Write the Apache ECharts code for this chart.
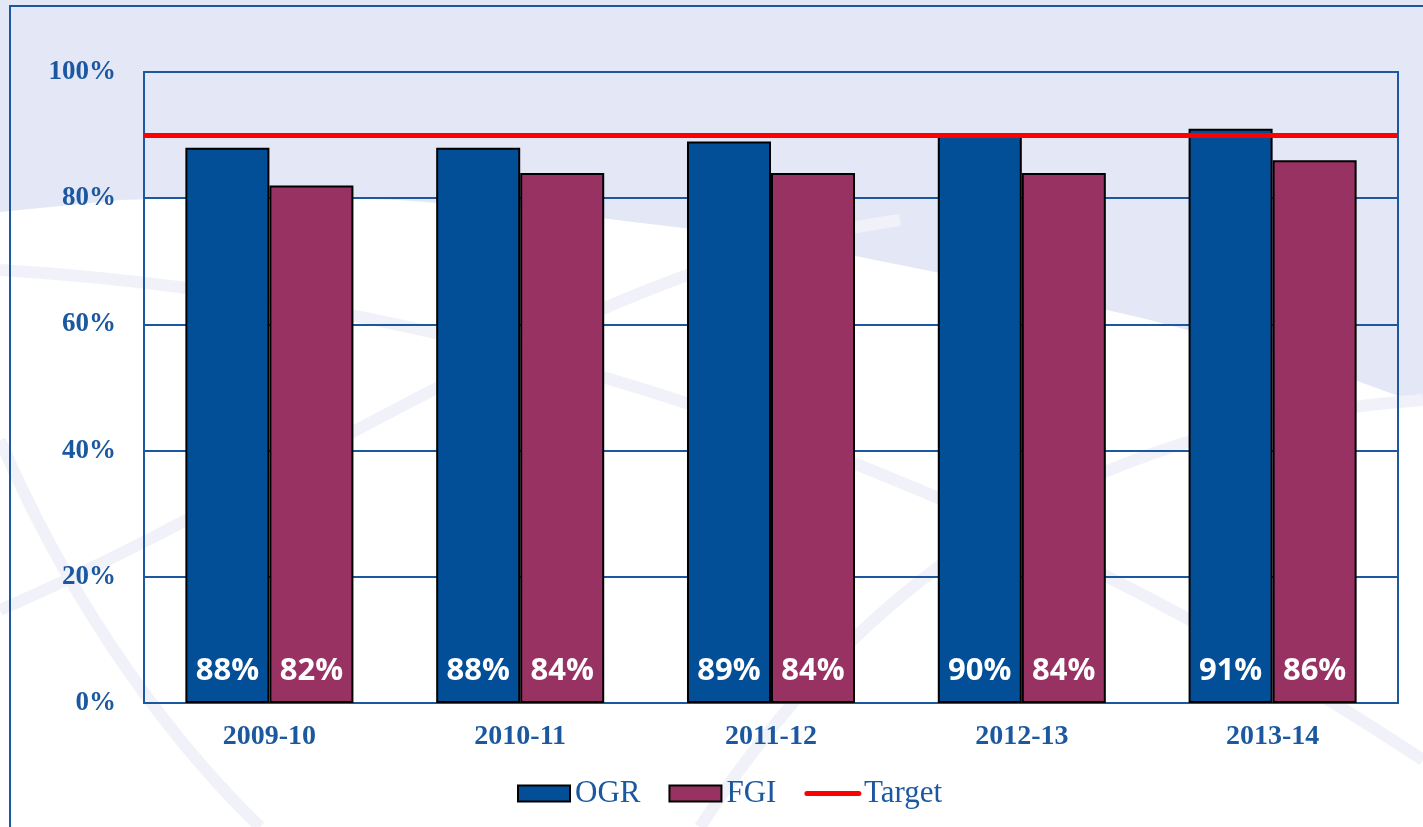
<!DOCTYPE html>
<html lang="en">
  <head>
    <meta charset="UTF-8" />
    <title>OGR / FGI</title>
    <script src="https://cdn.jsdelivr.net/npm/echarts@6.0.0/dist/echarts.min.js"></script>
    <style>
      body { margin: 0; padding: 0; background: #fff; }
      #main { width: 1423px; height: 827px; }
    </style>
  </head>
  <body>
    <div id="main"></div>
    <script>
      // data
      const years = ["2009-10", "2010-11", "2011-12", "2012-13", "2013-14"];
      const ogr = [88, 88, 89, 90, 91];
      const fgi = [82, 84, 84, 84, 86];
      const target = 90;
      const yTicks = [0, 20, 40, 60, 80, 100];

      const textBlue = "#1B58A0";
      const serif = "'Liberation Serif', 'DejaVu Serif', serif";
      const arcColor = "#F1F1F9";

      const barLabel = {
        show: true,
        position: "insideBottom",
        distance: 16,
        formatter: "{c}%",
        color: "#fff",
        fontFamily: "'Open Sans', sans-serif",
        fontWeight: "bold",
        fontSize: 31,
      };

      const chart = echarts.init(document.getElementById("main"));
      chart.setOption({
        backgroundColor: "#fff",
        animation: false,
        graphic: [
          // light blue top band of the slide background
          {
            type: "polygon",
            z: -10,
            silent: true,
            shape: {
              points: [[0, 0], [1423, 0], [1423, 405], [1300, 360], [1150, 320], [1000, 285], [850, 255], [700, 230], [550, 212], [400, 200], [250, 196], [120, 200], [0, 212]],
            },
            style: { fill: "#E4E7F5" },
          },
          // faint decorative arcs
          {
            type: "bezierCurve", z: -9, silent: true,
            shape: { x1: 0, y1: 270, x2: 1423, y2: 760, cpx1: 500, cpy1: 300, cpx2: 1000, cpy2: 480 },
            style: { stroke: arcColor, lineWidth: 12, fill: null },
          },
          {
            type: "bezierCurve", z: -9, silent: true,
            shape: { x1: 0, y1: 610, x2: 900, y2: 220, cpx1: 300, cpy1: 480, cpx2: 600, cpy2: 260 },
            style: { stroke: arcColor, lineWidth: 12, fill: null },
          },
          {
            type: "bezierCurve", z: -9, silent: true,
            shape: { x1: 0, y1: 440, x2: 260, y2: 827, cpx1: 60, cpy1: 580, cpx2: 150, cpy2: 720 },
            style: { stroke: arcColor, lineWidth: 12, fill: null },
          },
          {
            type: "bezierCurve", z: -9, silent: true,
            shape: { x1: 700, y1: 827, x2: 1423, y2: 400, cpx1: 900, cpy1: 520, cpx2: 1150, cpy2: 420 },
            style: { stroke: arcColor, lineWidth: 12, fill: null },
          },
          // slide frame (left and top)
          {
            type: "polyline",
            silent: true,
            shape: { points: [[10, 827], [10, 6], [1423, 6]] },
            style: { stroke: textBlue, lineWidth: 2, fill: null },
          },
        ],
        legend: {
          top: 773,
          left: 512,
          itemWidth: 52,
          itemHeight: 16,
          itemGap: 28,
          textStyle: { fontFamily: serif, fontSize: 31, color: textBlue },
          data: [
            { name: "OGR", icon: "rect", itemStyle: { borderColor: "#000", borderWidth: 2 } },
            { name: "FGI", icon: "rect", itemStyle: { borderColor: "#000", borderWidth: 2 } },
            { name: "Target", itemStyle: { opacity: 0 }, lineStyle: { width: 5, cap: "round" } },
          ],
        },
        grid: {
          left: 144,
          right: 25,
          top: 72,
          bottom: 124,
          show: true,
          borderColor: textBlue,
          borderWidth: 2,
        },
        xAxis: {
          type: "category",
          data: years,
          axisLine: { lineStyle: { color: textBlue, width: 2 } },
          axisTick: { show: false },
          axisLabel: {
            margin: 20,
            fontFamily: serif,
            fontWeight: "bold",
            fontSize: 28,
            color: textBlue,
          },
        },
        yAxis: {
          type: "value",
          min: yTicks[0],
          max: yTicks[yTicks.length - 1],
          interval: 20,
          axisLine: { show: true, lineStyle: { color: textBlue, width: 2 } },
          axisTick: { show: false },
          splitLine: { lineStyle: { color: textBlue, width: 2 } },
          axisLabel: {
            margin: 28,
            formatter: "{value}%",
            fontFamily: serif,
            fontWeight: "bold",
            fontSize: 27,
            color: textBlue,
          },
        },
        series: [
          {
            name: "OGR",
            type: "bar",
            data: ogr,
            barGap: "0%",
            barCategoryGap: "33%",
            itemStyle: { color: "#024F98", borderColor: "#000", borderWidth: 2 },
            label: barLabel,
          },
          {
            name: "FGI",
            type: "bar",
            data: fgi,
            itemStyle: { color: "#983263", borderColor: "#000", borderWidth: 2 },
            label: barLabel,
          },
          {
            name: "Target",
            type: "line",
            data: [],
            symbol: "none",
            itemStyle: { color: "#FF0000" },
            lineStyle: { color: "#FF0000", width: 5, cap: "round" },
            markLine: {
              silent: true,
              symbol: "none",
              label: { show: false },
              lineStyle: { color: "#FF0000", width: 5, type: "solid" },
              data: [{ yAxis: target }],
            },
          },
        ],
      });
    </script>
  </body>
</html>
